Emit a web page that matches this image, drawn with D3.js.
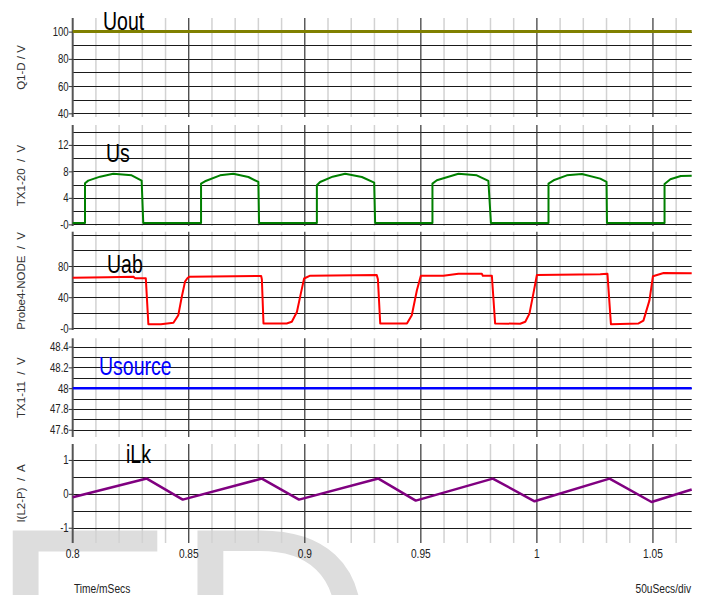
<!DOCTYPE html>
<html>
<head>
<meta charset="utf-8">
<script src="https://cdn.jsdelivr.net/npm/d3@7"></script>
<style>
  body { margin: 0; background: #fff; }
  text { font-family: "Liberation Sans", Arial, sans-serif; }
</style>
</head>
<body>
<svg id="chart"></svg>
<script>
/* global d3 */
const W = 707
const H = 595

// time axis, ms
const timeTicks = [0.8, 0.85, 0.9, 0.95, 1, 1.05]
const timeLabels = ['0.8', '0.85', '0.9', '0.95', '1', '1.05']

// Uout (Q1-D)
const uoutT = [0.8, 1.0667]
const uoutV = [100, 100]

// Us (TX1-20)
const usT = [0.8, 0.8053, 0.8053, 0.8067, 0.8118, 0.8175, 0.8254, 0.8297, 0.8304,
  0.8553, 0.8553, 0.857, 0.8635, 0.8692, 0.8757, 0.88, 0.8803,
  0.9052, 0.9052, 0.9066, 0.912, 0.9174, 0.9246, 0.9299, 0.9303,
  0.955, 0.955, 0.9569, 0.9662, 0.9741, 0.9791, 0.9802,
  1.005, 1.005, 1.0072, 1.0129, 1.0194, 1.0273, 1.03, 1.0302,
  1.055, 1.055, 1.0575, 1.062, 1.0667]
const usV = [0.2, 0.2, 6.2, 6.6, 7.2, 7.65, 7.4, 6.6, 0.2,
  0.2, 6.15, 6.5, 7.4, 7.65, 7.15, 6.4, 0.2,
  0.2, 5.9, 6.4, 7.2, 7.65, 7.15, 6.3, 0.2,
  0.2, 6.15, 6.65, 7.65, 7.4, 6.55, 0.2,
  0.2, 6.15, 6.65, 7.4, 7.6, 6.9, 6.4, 0.2,
  0.2, 6.1, 6.8, 7.3, 7.35]

// Uab (Probe4-NODE)
const uabT = [0.8, 0.815, 0.8261, 0.8269, 0.8315, 0.8326, 0.838, 0.8434, 0.8455, 0.847, 0.8484, 0.8494, 0.8503,
  0.8812, 0.8815, 0.8822, 0.8922, 0.8944, 0.8966, 0.8983, 0.8997, 0.9023,
  0.931, 0.9315, 0.9325, 0.944, 0.9461, 0.9483, 0.95, 0.9597, 0.9662, 0.9763, 0.9767, 0.9806,
  0.982, 0.9928, 0.995, 0.9968, 0.9985, 1.0, 1.0273, 1.0304,
  1.0319, 1.0438, 1.0459, 1.0485, 1.05, 1.0546, 1.0667]
const uabV = [65, 65.5, 66.4, 64.4, 64.4, 5.5, 5.3, 7.2, 17, 40.6, 60, 64.3, 66.4,
  67.2, 63, 6.4, 6.4, 8.5, 21, 45, 64, 67.6,
  68.5, 63, 6.4, 6.4, 17, 49, 67.6, 67.6, 70, 70, 67.6, 67.6,
  6.4, 6, 8.5, 19, 45, 68.5, 69.4, 70,
  5.5, 6.4, 10, 36, 67, 71, 70.7]

// Usource (TX1-11)
const usrcT = [0.8, 1.0667]
const usrcV = [48, 48]

// iLk (L2-P)
const ilkT = [0.8, 0.8319, 0.8474, 0.8815, 0.8975, 0.9317, 0.9478, 0.981, 0.999, 1.0313, 1.0494, 1.0667]
const ilkV = [-0.1, 0.45, -0.17, 0.45, -0.17, 0.45, -0.2, 0.45, -0.22, 0.45, -0.24, 0.13]

// y grid / tick labels per panel
const q1Grid = [40, 50, 60, 70, 80, 90, 100]
const q1Ticks = [40, 60, 80, 100]
const q1Labels = ['40', '60', '80', '100']
const usGrid = [0, 2, 4, 6, 8, 10, 12, 14]
const usTicks = [0, 4, 8, 12]
const usLabels = ['-0', '4', '8', '12']
const uabGrid = [0, 20, 40, 60, 80, 100, 120]
const uabTicks = [0, 40, 80]
const uabLabels = ['-0', '40', '80']
const srcGrid = [47.6, 47.7, 47.8, 47.9, 48, 48.1, 48.2, 48.3, 48.4]
const srcTicks = [47.6, 47.8, 48, 48.2, 48.4]
const srcLabels = ['47.6', '47.8', '48', '48.2', '48.4']
const ilkGrid = [-1, -0.5, 0, 0.5, 1]
const ilkTicks = [-1, 0, 1]
const ilkLabels = ['-1', '0', '1']

const left = 72.7
const right = 691.7
const x = d3.scaleLinear().domain([0.8, 1.0667]).range([left, right])

const panels = [
  { axis: 'Q1-D / V', top: 18, bottom: 117, domain: [37.3, 110], grid: q1Grid, ticks: q1Ticks, labels: q1Labels,
    name: 'Uout', nameX: 103, nameY: 30, nameColor: '#000', t: uoutT, v: uoutV, stroke: '#808000', sw: 3 },
  { axis: 'TX1-20  /  V', top: 125, bottom: 226, domain: [-0.25, 15], grid: usGrid, ticks: usTicks, labels: usLabels,
    name: 'Us', nameX: 106, nameY: 162, nameColor: '#000', t: usT, v: usV, stroke: '#008000', sw: 2 },
  { axis: 'Probe4-NODE  /  V', top: 231.7, bottom: 330, domain: [-2, 124], grid: uabGrid, ticks: uabTicks, labels: uabLabels,
    name: 'Uab', nameX: 107, nameY: 273, nameColor: '#000', t: uabT, v: uabV, stroke: '#ff0000', sw: 2 },
  { axis: 'TX1-11  /  V', top: 338.3, bottom: 437, domain: [47.53, 48.48], grid: srcGrid, ticks: srcTicks, labels: srcLabels,
    name: 'Usource', nameX: 99, nameY: 375, nameColor: '#0000ff', t: usrcT, v: usrcV, stroke: '#0000ff', sw: 2.5 },
  { axis: 'I(L2-P)  /  A', top: 444, bottom: 543, domain: [-1.45, 1.47], grid: ilkGrid, ticks: ilkTicks, labels: ilkLabels,
    name: 'iLk', nameX: 126, nameY: 463, nameColor: '#000', t: ilkT, v: ilkV, stroke: '#800080', sw: 2.5 }
]

const svg = d3.select('#chart').attr('width', W).attr('height', H)

// watermark behind everything
svg.append('text')
  .attr('x', -10).attr('y', 721)
  .attr('font-size', 277)
  .attr('fill', '#dddddd')
  .text('ED')

// horizontally condensed text helper
function squeeze (sel, px, py, s) {
  return sel.attr('transform', `translate(${px},${py}) scale(${s},1)`)
}

const minorTicks = x.ticks(27).filter(d => !timeTicks.some(m => Math.abs(m - d) < 1e-6))

panels.forEach(p => {
  const y = d3.scaleLinear().domain(p.domain).range([p.bottom, p.top])
  const g = svg.append('g')

  // minor vertical grid
  g.selectAll('.vminor').data(minorTicks).enter().append('line')
    .attr('x1', d => x(d)).attr('x2', d => x(d))
    .attr('y1', p.top).attr('y2', p.bottom)
    .attr('stroke', '#d2d2d2').attr('stroke-width', 1.5)

  // horizontal grid
  g.selectAll('.hgrid').data(p.grid).enter().append('line')
    .attr('x1', left).attr('x2', right)
    .attr('y1', d => Math.round(y(d)) + 0.5).attr('y2', d => Math.round(y(d)) + 0.5)
    .attr('stroke', '#1a1a1a').attr('stroke-width', 1)

  // major vertical grid
  g.selectAll('.vmajor').data(timeTicks.slice(1)).enter().append('line')
    .attr('x1', d => x(d)).attr('x2', d => x(d))
    .attr('y1', p.top).attr('y2', p.bottom)
    .attr('stroke', '#333').attr('stroke-width', 1.2)

  // left axis with ticks
  const yAxis = d3.axisLeft(y).tickValues(p.ticks).tickSize(4).tickFormat((d, i) => p.labels[i])
  const ag = g.append('g').attr('transform', `translate(${left},0)`).call(yAxis)
  ag.select('.domain').attr('stroke', '#555').attr('stroke-width', 2)
    .attr('d', `M0,${p.top}V${p.bottom}`)
  ag.selectAll('.tick line').attr('stroke', '#333')
  ag.selectAll('.tick text')
    .attr('font-size', 12).attr('fill', '#222')
    .attr('x', null).attr('dy', null)
    .each(function (d) {
      squeeze(d3.select(this), -4, 4, 0.8)
    })

  // axis title
  g.append('text')
    .attr('transform', `translate(25,${(p.top + p.bottom) / 2}) rotate(-90)`)
    .attr('text-anchor', 'middle')
    .attr('font-size', 11.5)
    .attr('fill', '#333')
    .style('white-space', 'pre')
    .text(p.axis)

  // signal
  const line = d3.line().x(d => x(d[0])).y(d => y(d[1]))
  g.append('path')
    .datum(d3.zip(p.t, p.v))
    .attr('d', line)
    .attr('fill', 'none')
    .attr('stroke', p.stroke)
    .attr('stroke-width', p.sw)
    .attr('stroke-linejoin', 'round')

  // signal name
  squeeze(g.append('text'), p.nameX, p.nameY, 0.75)
    .attr('font-size', 26)
    .attr('fill', p.nameColor)
    .text(p.name)
})

// time tick labels
svg.selectAll('.xlab').data(timeTicks).enter().append('text')
  .attr('text-anchor', 'middle')
  .attr('font-size', 13)
  .attr('fill', '#222')
  .attr('transform', d => `translate(${x(d)},558) scale(0.78,1)`)
  .text((d, i) => timeLabels[i])

squeeze(svg.append('text'), 74, 593, 0.85)
  .attr('font-size', 12).attr('fill', '#222')
  .text('Time/mSecs')

squeeze(svg.append('text'), 691, 593, 0.85)
  .attr('font-size', 12).attr('fill', '#222')
  .attr('text-anchor', 'end')
  .text('50uSecs/div')
</script>
</body>
</html>
